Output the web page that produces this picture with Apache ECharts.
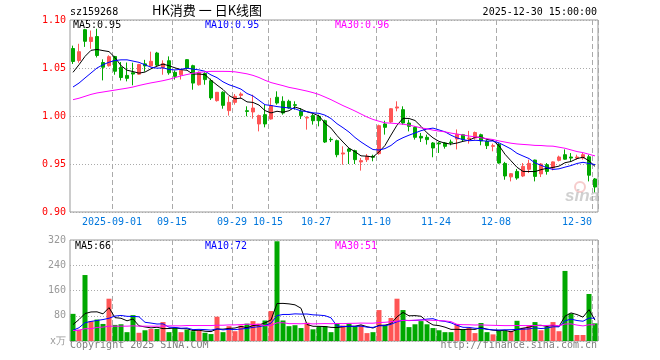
<!DOCTYPE html>
<html><head><meta charset="utf-8">
<script src="https://cdn.jsdelivr.net/npm/echarts@6/dist/echarts.min.js"></script>
<style>html,body{margin:0;padding:0;background:#fff}#c{width:660px;height:360px}</style>
</head><body><div id="c"></div>
<script>
const dates = ['2025-08-21','2025-08-22','2025-08-25','2025-08-26','2025-08-27','2025-08-28','2025-08-29',
'2025-09-01','2025-09-02','2025-09-03','2025-09-04','2025-09-05','2025-09-08','2025-09-09','2025-09-10','2025-09-11','2025-09-12',
'2025-09-15','2025-09-16','2025-09-17','2025-09-18','2025-09-19','2025-09-22','2025-09-23','2025-09-24','2025-09-25','2025-09-26',
'2025-09-29','2025-09-30','2025-10-09','2025-10-10','2025-10-13','2025-10-14','2025-10-15','2025-10-16','2025-10-17',
'2025-10-20','2025-10-21','2025-10-22','2025-10-23','2025-10-24','2025-10-27','2025-10-28','2025-10-29','2025-10-30','2025-10-31',
'2025-11-03','2025-11-04','2025-11-05','2025-11-06','2025-11-07','2025-11-10','2025-11-11','2025-11-12','2025-11-13','2025-11-14',
'2025-11-17','2025-11-18','2025-11-19','2025-11-20','2025-11-21','2025-11-24','2025-11-25','2025-11-26','2025-11-27','2025-11-28',
'2025-12-01','2025-12-02','2025-12-03','2025-12-04','2025-12-05','2025-12-08','2025-12-09','2025-12-10','2025-12-11','2025-12-12',
'2025-12-15','2025-12-16','2025-12-17','2025-12-18','2025-12-19','2025-12-22','2025-12-23','2025-12-24','2025-12-25','2025-12-26',
'2025-12-29','2025-12-30'];

const opens = [1.0703,1.0578,1.0899,1.0776,1.0828,1.0557,1.0524,1.0620,1.0505,1.0423,
1.0451,1.0436,1.0543,1.0522,1.0656,1.0505,1.0576,1.0455,1.0430,1.0587,
1.0524,1.0326,1.0443,1.0368,1.0160,1.0247,1.0056,1.0142,1.0215,1.0055,
1.0042,0.9917,1.0014,0.9969,1.0195,1.0153,1.0153,1.0118,1.0049,0.9979,
1.0004,0.9997,0.9951,0.9757,0.9743,0.9604,0.9656,0.9639,0.9521,0.9545,
0.9580,0.9608,0.9917,0.9938,1.0083,1.0066,0.9927,0.9882,0.9788,0.9778,
0.9719,0.9719,0.9719,0.9729,0.9760,0.9805,0.9760,0.9770,0.9805,0.9736,
0.9684,0.9703,0.9506,0.9366,0.9423,0.9375,0.9445,0.9541,0.9397,0.9493,
0.9458,0.9538,0.9597,0.9573,0.9562,0.9562,0.9575,0.9344];
const closes = [1.0568,1.0670,1.0778,1.0820,1.0630,1.0508,1.0618,1.0466,1.0401,1.0392,
1.0437,1.0536,1.0522,1.0570,1.0530,1.0545,1.0450,1.0413,1.0475,1.0500,
1.0343,1.0455,1.0379,1.0188,1.0247,1.0111,1.0142,1.0205,1.0229,1.0048,
1.0083,1.0004,0.9917,1.0108,1.0135,1.0031,1.0083,1.0111,1.0004,0.9986,
0.9951,0.9951,0.9729,0.9753,0.9597,0.9615,0.9632,0.9545,0.9535,0.9580,
0.9570,0.9899,0.9882,1.0076,1.0094,0.9927,0.9892,0.9778,0.9771,0.9754,
0.9667,0.9709,0.9684,0.9722,0.9810,0.9754,0.9771,0.9828,0.9740,0.9691,
0.9691,0.9510,0.9375,0.9399,0.9354,0.9475,0.9506,0.9371,0.9500,0.9423,
0.9522,0.9573,0.9550,0.9562,0.9573,0.9597,0.9383,0.9260];
const lows = [1.0542,1.0555,1.0720,1.0700,1.0610,1.0371,1.0514,1.0430,1.0370,1.0361,
1.0320,1.0430,1.0463,1.0514,1.0520,1.0430,1.0430,1.0379,1.0380,1.0485,
1.0274,1.0316,1.0326,1.0167,1.0150,1.0076,1.0004,1.0118,1.0181,0.9997,
0.9972,0.9840,0.9882,0.9962,1.0118,1.0014,1.0076,1.0066,0.9969,0.9858,
0.9910,0.9892,0.9719,0.9729,0.9570,0.9493,0.9500,0.9500,0.9431,0.9521,
0.9528,0.9597,0.9806,0.9927,1.0049,0.9910,0.9840,0.9754,0.9729,0.9702,
0.9570,0.9615,0.9660,0.9695,0.9652,0.9736,0.9712,0.9753,0.9695,0.9656,
0.9632,0.9503,0.9336,0.9319,0.9336,0.9364,0.9406,0.9319,0.9364,0.9389,
0.9434,0.9527,0.9545,0.9527,0.9545,0.9545,0.9319,0.9205];
const highs = [1.0733,1.0752,1.0908,1.0890,1.0909,1.0590,1.0632,1.0626,1.0562,1.0557,
1.0555,1.0543,1.0585,1.0670,1.0668,1.0580,1.0621,1.0475,1.0490,1.0592,
1.0534,1.0465,1.0456,1.0389,1.0250,1.0257,1.0205,1.0229,1.0247,1.0101,
1.0222,1.0014,1.0118,1.0188,1.0257,1.0205,1.0170,1.0153,1.0083,0.9997,
1.0021,1.0014,0.9962,0.9778,0.9754,0.9684,0.9667,0.9649,0.9563,0.9604,
0.9597,0.9910,0.9951,1.0083,1.0153,1.0101,0.9962,0.9892,0.9823,0.9806,
0.9729,0.9729,0.9729,0.9754,0.9860,0.9813,0.9845,0.9838,0.9816,0.9753,
0.9712,0.9718,0.9522,0.9406,0.9448,0.9510,0.9545,0.9545,0.9510,0.9510,
0.9527,0.9587,0.9652,0.9614,0.9597,0.9614,0.9597,0.9354];
const volumes = [86,36,209,63,68,54,134,51,53,28,
82,26,34,38,38,60,28,42,28,36,
31,34,26,22,77,28,47,31,49,55,
63,55,65,95,316,65,47,50,41,58,
37,46,47,28,55,49,55,47,50,25,
28,98,50,73,134,98,44,53,63,53,
41,34,28,28,54,36,41,25,57,28,
21,32,32,32,64,42,49,60,34,45,
60,31,222,87,19,19,149,56];

// moving-average values at the left edge (earlier data not shown)
const ma5Head = [1.0455,1.0534,1.0621,1.0684];
const ma10Head = [1.0302,1.0343,1.0396,1.0448,1.0500,1.0534,1.0560,1.0578,1.0585];
const ma30Head = [1.0170,1.0185,1.0205,1.0225,1.0240,1.0250,1.0260,1.0270,1.0280,1.0290,
1.0302,1.0318,1.0332,1.0345,1.0356,1.0368,1.0382,1.0400,1.0418,1.0432,
1.0445,1.0455,1.0460,1.0465,1.0465,1.0465,1.0464,1.0460,1.0450];
const vma5Head = [52,68,87,92];
const vma10Head = [34,42,58,62,65,68,72,79,81];
const vma30Head = [33,34,39,39,43,44,47,47,47,47,48,47,47,47,47,47,48,48,48,49,49,49,49,49,50,50,51,51,52];

const labelDates = ['2025-09-01','2025-09-15','2025-09-29','2025-10-15','2025-10-27','2025-11-10','2025-11-24','2025-12-08','2025-12-30'];
const labelTexts = ['2025-09-01','09-15','09-29','10-15','10-27','11-10','11-24','12-08','12-30'];
const priceTicks = [0.90,0.95,1.00,1.05,1.10];
const volTicks = [0,80,160,240,320];

function movAvg(vals, n, head) {
  return vals.map((v, i) => {
    if (i < n - 1) return head[i];
    let s = 0; for (let k = i - n + 1; k <= i; k++) s += vals[k];
    return s / n;
  });
}
const ma5 = movAvg(closes, 5, ma5Head), ma10 = movAvg(closes, 10, ma10Head), ma30 = movAvg(closes, 30, ma30Head);
const vma5 = movAvg(volumes, 5, vma5Head), vma10 = movAvg(volumes, 10, vma10Head), vma30 = movAvg(volumes, 30, vma30Head);
const N = dates.length;
const labelIdx = new Map(labelDates.map((d, k) => [dates.indexOf(d), labelTexts[k]]));

const UP = '#ff5555', DOWN = '#00a800';
const MONO = 'DejaVu Sans Mono';
const candle = dates.map((d, i) => [opens[i], closes[i], lows[i], highs[i]]);
const volData = volumes.map((v, i) => ({value: v, itemStyle: {color: closes[i] >= opens[i] ? UP : DOWN}}));

const chart = echarts.init(document.getElementById('c'), null, {renderer: 'canvas'});
const splitX = {show: true, interval: (i) => labelIdx.has(i), lineStyle: {color: '#aaaaaa', type: [5, 3], width: 1}};
const splitY = {show: true, lineStyle: {color: '#aaaaaa', type: [1, 2], width: 1}};
const txt = (t, x, y, color, align) => ({type: 'text', left: align === 'right' ? null : x, right: align === 'right' ? 660 - x : null, top: y - 6,
  style: {text: t, fill: color, font: '10px "' + MONO + '"'}});

chart.setOption({
  animation: false,
  backgroundColor: '#fff',
  grid: [
    {left: 70, right: 62, top: 20, height: 192, show: true, borderColor: '#999', borderWidth: 1},
    {left: 70, right: 62, top: 240, height: 101, show: true, borderColor: '#999', borderWidth: 1}
  ],
  xAxis: [
    {type: 'category', gridIndex: 0, data: dates, boundaryGap: true,
     axisLine: {show: false}, axisTick: {show: false},
     axisLabel: {interval: (i) => labelIdx.has(i), margin: 5,
       formatter: (v, i) => (i === N - 1 ? '{e|' : '{n|') + labelIdx.get(i) + '}',
       rich: {n: {padding: [0, 6, 0, 0], color: '#0077dd', fontFamily: MONO, fontSize: 10},
              e: {padding: [0, 36, 0, 0], color: '#0077dd', fontFamily: MONO, fontSize: 10}}},
     splitLine: splitX},
    {type: 'category', gridIndex: 1, data: dates, boundaryGap: true,
     axisLine: {show: false}, axisTick: {show: false}, axisLabel: {show: false},
     splitLine: splitX}
  ],
  yAxis: [
    {type: 'value', gridIndex: 0, min: priceTicks[0], max: priceTicks[priceTicks.length - 1], interval: 0.05,
     axisLine: {show: false}, axisTick: {show: false}, splitLine: splitY,
     axisLabel: {color: '#ff0000', fontFamily: MONO, fontSize: 10, margin: 4, formatter: (v) => v.toFixed(2)}},
    {type: 'value', gridIndex: 1, min: volTicks[0], max: volTicks[volTicks.length - 1], interval: 80,
     axisLine: {show: false}, axisTick: {show: false}, splitLine: splitY,
     axisLabel: {color: '#999999', fontFamily: MONO, fontSize: 10, margin: 4, formatter: (v) => v === 0 ? 'x万' : String(v)}}
  ],
  series: [
    {type: 'candlestick', xAxisIndex: 0, yAxisIndex: 0, data: candle, barWidth: 4,
     itemStyle: {color: UP, color0: DOWN, borderColor: UP, borderColor0: DOWN, borderWidth: 1}, silent: true},
    {type: 'line', xAxisIndex: 0, yAxisIndex: 0, data: ma5, symbol: 'none', lineStyle: {color: '#000', width: 1}, silent: true},
    {type: 'line', xAxisIndex: 0, yAxisIndex: 0, data: ma10, symbol: 'none', lineStyle: {color: '#0000ff', width: 1}, silent: true},
    {type: 'line', xAxisIndex: 0, yAxisIndex: 0, data: ma30, symbol: 'none', lineStyle: {color: '#ff00ff', width: 1}, silent: true},
    {type: 'bar', xAxisIndex: 1, yAxisIndex: 1, data: volData, barWidth: 5, silent: true},
    {type: 'line', xAxisIndex: 1, yAxisIndex: 1, data: vma5, symbol: 'none', lineStyle: {color: '#000', width: 1}, silent: true},
    {type: 'line', xAxisIndex: 1, yAxisIndex: 1, data: vma10, symbol: 'none', lineStyle: {color: '#0000ff', width: 1}, silent: true},
    {type: 'line', xAxisIndex: 1, yAxisIndex: 1, data: vma30, symbol: 'none', lineStyle: {color: '#ff00ff', width: 1}, silent: true}
  ],
  graphic: [
    txt('sz159268', 70, 13, '#000'),
    {type: 'text', left: 152, top: 4, style: {text: 'HK消费 一 日K线图', fill: '#000', font: '13px "Noto Sans CJK SC"'}},
    txt('2025-12-30 15:00:00', 597, 13, '#000', 'right'),
    txt('MA5:' + ma5[N - 1].toFixed(2), 73, 26, '#000'),
    txt('MA10:' + ma10[N - 1].toFixed(2), 205, 26, '#0000ff'),
    txt('MA30:' + ma30[N - 1].toFixed(2), 335, 26, '#ff00ff'),
    txt('MA5:' + Math.round(vma5[N - 1]), 75, 247, '#000'),
    txt('MA10:' + Math.round(vma10[N - 1]), 205, 247, '#0000ff'),
    txt('MA30:' + Math.round(vma30[N - 1]), 335, 247, '#ff00ff'),
    txt('Copyright 2025 SINA.COM', 70, 346, '#808080'),
    txt('http://finance.sina.com.cn', 597, 346, '#808080', 'right'),
    {type: 'circle', shape: {cx: 580, cy: 187, r: 5}, style: {fill: 'none', stroke: 'rgba(230,110,110,0.35)', lineWidth: 2}, z: 1},
    {type: 'text', left: 565, top: 188, z: 1, style: {text: 'sina', fill: 'rgba(170,170,170,0.55)', font: 'italic bold 17px "Liberation Sans"'}}
  ]
});
</script></body></html>
